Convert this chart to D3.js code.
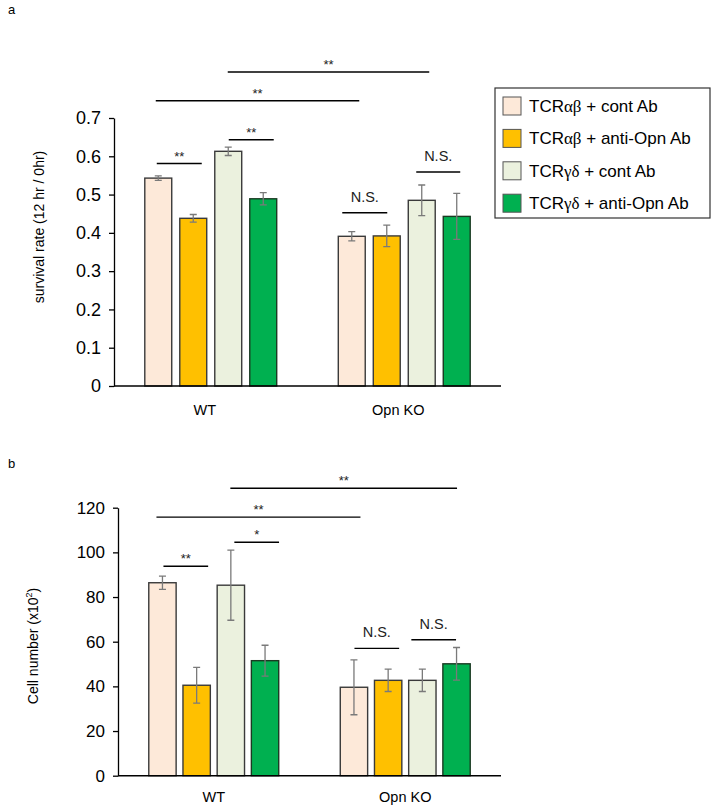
<!DOCTYPE html>
<html><head><meta charset="utf-8">
<script src="https://cdn.jsdelivr.net/npm/d3@7"></script>
<style>body{margin:0;background:#fff}svg{display:block}text{font-family:"Liberation Sans",Arial,sans-serif}</style>
</head><body>
<svg id="c" width="713" height="807"></svg>
<script>
// ---------- data ----------
const groups = ["WT", "Opn KO"];
const seriesNames = [
  ["TCR", "αβ", " + cont Ab"],
  ["TCR", "αβ", " + anti-Opn Ab"],
  ["TCR", "γδ", " + cont Ab"],
  ["TCR", "γδ", " + anti-Opn Ab"]
];
const seriesColors = ["#FDE9D9", "#FFC000", "#EBF1DE", "#00B050"];

const survivalMean = [[0.543, 0.438, 0.613, 0.489], [0.391, 0.392, 0.485, 0.443]];
const survivalErr  = [[0.006, 0.010, 0.011, 0.016], [0.012, 0.028, 0.040, 0.060]];
const survivalTicks = [0, 0.1, 0.2, 0.3, 0.4, 0.5, 0.6, 0.7];

const cellMean = [[86.4, 40.5, 85.3, 51.5], [39.6, 42.7, 42.7, 50.1]];
const cellErr  = [[3.0, 8.0, 15.7, 6.9], [12.3, 5.0, 5.0, 7.3]];
const cellTicks = [0, 20, 40, 60, 80, 100, 120];

// significance brackets: [group1, series1, group2, series2, level (data units), label]
const survivalSig = [
  [0, 0, 0, 1, 0.581, "**"],
  [0, 2, 0, 3, 0.643, "**"],
  [0, 0, 1, 0, 0.745, "**"],
  [0, 2, 1, 2, 0.820, "**"],
  [1, 0, 1, 1, 0.4525, "N.S."],
  [1, 2, 1, 3, 0.559, "N.S."]
];
const cellSig = [
  [0, 0, 0, 1, 93.8, "**"],
  [0, 2, 0, 3, 104.5, "*"],
  [0, 0, 1, 0, 115.8, "**"],
  [0, 2, 1, 3, 128.7, "**"],
  [1, 0, 1, 1, 57.0, "N.S."],
  [1, 2, 1, 3, 60.9, "N.S."]
];

// ---------- layout (px) ----------
const panels = [
  {letter: "a", letterY: 14, x0: 114, x1: 501, yTop: 118, yBot: 386, max: 0.7, tickFont: 18,
   mean: survivalMean, err: survivalErr, ticks: survivalTicks, fmt: d => d === 0 ? "0" : d.toFixed(1),
   sig: survivalSig, sigDx: [[-1.5, 8.5], [0.5, 10.5], [-2.5, 7.5], [-0.5, 7.5], [-9.5, 0.5], [-5.5, 3.5]],
   titleX: 44, titleY: 227, labelY: 415, labelDx: -6},
  {letter: "b", letterY: 468, x0: 118, x1: 501, yTop: 507.7, yBot: 775.7, max: 120, tickFont: 17,
   mean: cellMean, err: cellErr, ticks: cellTicks, fmt: d => String(d),
   sig: cellSig, sigDx: [[1, 11.5], [3.5, 14], [-6, 6.5], [-0.5, 0.5], [0.5, 11], [-11, -0.5]],
   titleX: 38, titleY: 646, labelY: 802, labelDx: 0}
];

const svg = d3.select("#c");

panels.forEach((P, pi) => {
  const g = svg.append("g");
  g.append("text").attr("x", 8).attr("y", P.letterY).attr("font-size", 13).text(P.letter);

  const x = d3.scaleBand().domain(d3.range(groups.length)).range([P.x0, P.x1]).padding(0);
  const xi = d3.scaleBand().domain(d3.range(4)).range([0, x.bandwidth()])
    .paddingInner(pi === 0 ? 0.23 : 0.2).paddingOuter(pi === 0 ? 0.88 : 0.9);
  const y = d3.scaleLinear().domain([0, P.max]).range([P.yBot, P.yTop]);

  // y axis
  const ya = g.append("g").attr("transform", `translate(${P.x0},0)`)
    .call(d3.axisLeft(y).tickValues(P.ticks).tickFormat(P.fmt).tickSize(5).tickPadding(8).tickSizeOuter(0));
  ya.select(".domain").attr("stroke", "#000").attr("stroke-width", 1.3);
  ya.selectAll(".tick line").attr("stroke", "#000").attr("stroke-width", 1.3);
  ya.selectAll(".tick text").attr("font-family", "Liberation Sans, Arial, sans-serif")
    .attr("font-size", P.tickFont).attr("fill", "#000");

  // bars
  const data = [];
  P.mean.forEach((row, gi) => row.forEach((v, si) => data.push({gi, si, v, e: P.err[gi][si]})));
  g.selectAll("rect.bar").data(data).join("rect").attr("class", "bar")
    .attr("x", d => x(d.gi) + xi(d.si))
    .attr("width", xi.bandwidth())
    .attr("y", d => y(d.v))
    .attr("height", d => y(0) - y(d.v))
    .attr("fill", d => seriesColors[d.si])
    .attr("stroke", d => d.si === 3 ? "#1a3a22" : "#3a3a3a").attr("stroke-width", 1.4);

  // error bars
  const cx = d => x(d.gi) + xi(d.si) + xi.bandwidth() / 2;
  const eg = g.append("g").attr("stroke", "#7a7a7a").attr("stroke-width", 1.3).attr("fill", "none");
  eg.selectAll("path").data(data).join("path")
    .attr("d", d => {
      const c = cx(d), t = y(d.v + d.e), b = y(d.v - d.e);
      return `M${c},${t}V${b}M${c - 3.5},${t}H${c + 3.5}M${c - 3.5},${b}H${c + 3.5}`;
    });

  // x axis line
  g.append("line").attr("x1", P.x0).attr("x2", P.x1).attr("y1", y(0)).attr("y2", y(0))
    .attr("stroke", "#000").attr("stroke-width", 1.5);

  // group labels
  g.selectAll("text.grp").data(groups).join("text").attr("class", "grp")
    .attr("x", (d, i) => x(i) + x.bandwidth() / 2 + P.labelDx)
    .attr("y", P.labelY).attr("text-anchor", "middle").attr("font-size", 14.5).text(d => d);

  // significance
  P.sig.forEach((s, k) => {
    const [g1, s1, g2, s2, lv, lab] = s;
    const xa = x(g1) + xi(s1) + xi.bandwidth() / 2 + P.sigDx[k][0];
    const xb = x(g2) + xi(s2) + xi.bandwidth() / 2 + P.sigDx[k][1];
    const ly = y(lv);
    g.append("line").attr("x1", xa).attr("x2", xb).attr("y1", ly).attr("y2", ly)
      .attr("stroke", "#000").attr("stroke-width", 1.4);
    const isNS = lab === "N.S.";
    g.append("text").attr("x", (xa + xb) / 2)
      .attr("y", isNS ? ly - 11 : ly - 3)
      .attr("text-anchor", "middle").attr("font-size", isNS ? 14.5 : 13)
      .attr("fill", "#222").text(lab);
  });

  // axis title
  const t = g.append("text").attr("transform", `translate(${P.titleX},${P.titleY}) rotate(-90)`)
    .attr("text-anchor", "middle").attr("font-size", 14);
  if (pi === 0) {
    t.text("survival rate (12 hr / 0hr)");
  } else {
    t.append("tspan").text("Cell number (x10");
    t.append("tspan").attr("font-size", 9).attr("dy", -6).text("2");
    t.append("tspan").attr("dy", 6).text(")");
  }
});

// legend
const lg = svg.append("g");
lg.append("rect").attr("x", 495).attr("y", 88).attr("width", 215).attr("height", 130)
  .attr("fill", "#fff").attr("stroke", "#333").attr("stroke-width", 1.2);
seriesNames.forEach((n, i) => {
  const cy = 106 + i * 32.4;
  lg.append("rect").attr("x", 503).attr("y", cy - 9).attr("width", 18).attr("height", 18)
    .attr("fill", seriesColors[i]).attr("stroke", "#555").attr("stroke-width", 1);
  const t = lg.append("text").attr("x", 529).attr("y", cy).attr("dy", "0.35em").attr("font-size", 17);
  t.append("tspan").text(n[0]);
  t.append("tspan").attr("font-family", "Liberation Serif, DejaVu Serif, serif").text(n[1]);
  t.append("tspan").text(n[2]);
});
</script>
</body></html>
